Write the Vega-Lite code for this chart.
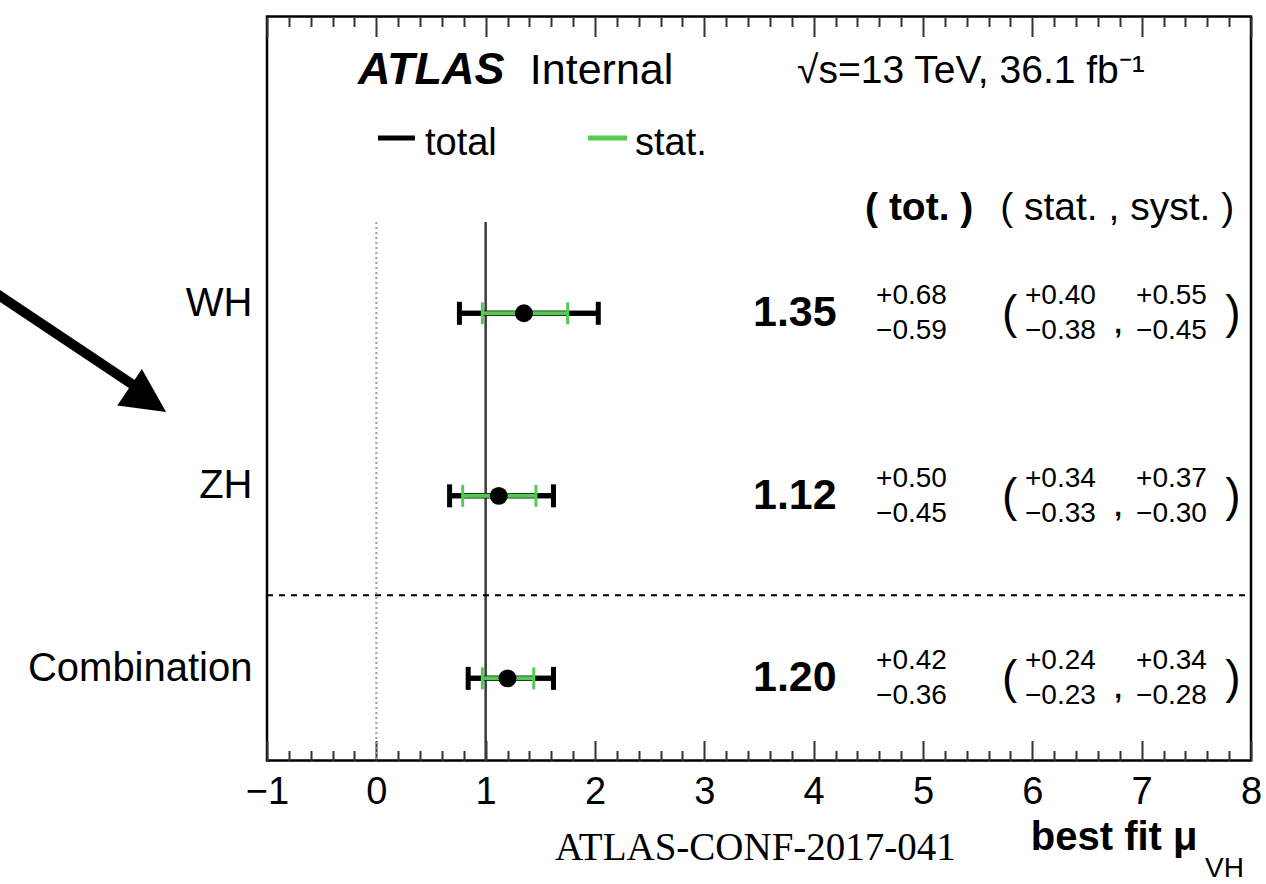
{
  "$schema": "https://vega.github.io/schema/vega-lite/v6.json",
  "width": 984,
  "height": 744,
  "autosize": {"type": "none"},
  "padding": {"left": 267, "top": 16.5, "right": 15, "bottom": 123.5},
  "background": "white",
  "config": {"font": "Liberation Sans", "view": {"stroke": "black", "strokeWidth": 2.5}},
  "datasets": {
    "fits": [
      {"process": "WH", "pos": 3, "mu": 1.35, "totLo": 0.76, "totHi": 2.03, "statLo": 0.97, "statHi": 1.75, "totUp": 0.68, "totDn": -0.59, "statUp": 0.40, "statDn": -0.38, "systUp": 0.55, "systDn": -0.45},
      {"process": "ZH", "pos": 2, "mu": 1.12, "totLo": 0.67, "totHi": 1.62, "statLo": 0.79, "statHi": 1.46, "totUp": 0.50, "totDn": -0.45, "statUp": 0.34, "statDn": -0.33, "systUp": 0.37, "systDn": -0.30},
      {"process": "Combination", "pos": 1, "mu": 1.20, "totLo": 0.84, "totHi": 1.62, "statLo": 0.97, "statHi": 1.44, "totUp": 0.42, "totDn": -0.36, "statUp": 0.24, "statDn": -0.23, "systUp": 0.34, "systDn": -0.28}
    ]
  },
  "resolve": {"axis": {"x": "independent"}},
  "layer": [
    {
      "data": {"name": "fits"},
      "mark": {"type": "rule", "color": "black", "strokeWidth": 5},
      "encoding": {
        "x": {"field": "totLo", "type": "quantitative", "scale": {"domain": [-1, 8], "nice": false, "zero": false},
          "axis": {"orient": "bottom", "values": [-1, 0, 1, 2, 3, 4, 5, 6, 7, 8], "format": "d", "domain": false, "grid": false, "ticks": true, "tickSize": -20, "tickWidth": 2, "tickColor": "#333", "labelFontSize": 38, "labelColor": "black", "labelPadding": 33, "labelFlush": false, "labelOverlap": false,
            "title": "best fit μ", "titleFontSize": 40, "titleFontWeight": "bold", "titleColor": "black", "titleAnchor": "end", "titleAlign": "right", "titleX": 930, "titleY": 89, "titleBaseline": "alphabetic"}},
        "x2": {"field": "totHi"},
        "y": {"field": "pos", "type": "quantitative", "scale": {"domain": [0.55, 4.626], "nice": false, "zero": false},
          "axis": {"orient": "left", "values": [1, 2, 3], "labelExpr": "datum.value == 3 ? 'WH' : datum.value == 2 ? 'ZH' : 'Combination'", "ticks": false, "domain": false, "grid": false, "labelFontSize": 40, "labelColor": "black", "labelPadding": 15, "labelOffset": -10, "labelLimit": 0, "title": null}}
      }
    },
    {
      "data": {"values": [{"mu": 0}]},
      "mark": {"type": "rule", "color": "#9a9a9a", "strokeWidth": 2, "strokeDash": [2, 3]},
      "encoding": {
        "x": {"field": "mu", "type": "quantitative", "scale": {"domain": [-1, 8], "nice": false, "zero": false}, "axis": null},
        "y": {"datum": 3.5, "type": "quantitative", "scale": {"domain": [0.55, 4.626], "nice": false, "zero": false}},
        "y2": {"datum": 0.55}
      }
    },
    {
      "data": {"values": [{"mu": 1}]},
      "mark": {"type": "rule", "color": "#3a3a3a", "strokeWidth": 2.5},
      "encoding": {
        "x": {"field": "mu", "type": "quantitative", "scale": {"domain": [-1, 8], "nice": false, "zero": false}, "axis": null},
        "y": {"datum": 3.5, "type": "quantitative", "scale": {"domain": [0.55, 4.626], "nice": false, "zero": false}},
        "y2": {"datum": 0.55}
      }
    },
    {
      "data": {"values": [{}]},
      "mark": {"type": "rule", "color": "black", "strokeWidth": 2, "strokeDash": [6, 6]},
      "encoding": {
        "x": {"datum": -1, "type": "quantitative", "scale": {"domain": [-1, 8], "nice": false, "zero": false}, "axis": null},
        "x2": {"datum": 8},
        "y": {"datum": 1.456, "type": "quantitative", "scale": {"domain": [0.55, 4.626], "nice": false, "zero": false}}
      }
    },
    {
      "data": {"name": "fits"},
      "mark": {"type": "rule", "color": "black", "strokeWidth": 5},
      "encoding": {
        "x": {"field": "totLo", "type": "quantitative", "scale": {"domain": [-1, 8], "nice": false, "zero": false}, "axis": null},
        "x2": {"field": "totHi"},
        "y": {"field": "pos", "type": "quantitative", "scale": {"domain": [0.55, 4.626], "nice": false, "zero": false}}
      }
    },
    {
      "data": {"name": "fits"},
      "mark": {"type": "point", "shape": "M0,-1L0,1", "size": 529, "strokeWidth": 5, "color": "black", "filled": false, "opacity": 1},
      "encoding": {
        "x": {"field": "totLo", "type": "quantitative", "scale": {"domain": [-1, 8], "nice": false, "zero": false},
          "axis": {"orient": "top", "values": [-1, 0, 1, 2, 3, 4, 5, 6, 7, 8], "labels": false, "domain": false, "grid": false, "tickSize": -20, "tickWidth": 2, "tickColor": "#333", "title": null}},
        "y": {"field": "pos", "type": "quantitative", "scale": {"domain": [0.55, 4.626], "nice": false, "zero": false}}
      }
    },
    {
      "data": {"name": "fits"},
      "mark": {"type": "point", "shape": "M0,-1L0,1", "size": 529, "strokeWidth": 5, "color": "black", "filled": false, "opacity": 1},
      "encoding": {
        "x": {"field": "totHi", "type": "quantitative", "scale": {"domain": [-1, 8], "nice": false, "zero": false},
          "axis": {"orient": "top", "values": [-0.8, -0.6, -0.4, -0.2, 0.2, 0.4, 0.6, 0.8, 1.2, 1.4, 1.6, 1.8, 2.2, 2.4, 2.6, 2.8, 3.2, 3.4, 3.6, 3.8, 4.2, 4.4, 4.6, 4.8, 5.2, 5.4, 5.6, 5.8, 6.2, 6.4, 6.6, 6.8, 7.2, 7.4, 7.6, 7.8], "labels": false, "domain": false, "grid": false, "tickSize": -10, "tickWidth": 2, "tickColor": "#333", "title": null}},
        "y": {"field": "pos", "type": "quantitative", "scale": {"domain": [0.55, 4.626], "nice": false, "zero": false}}
      }
    },
    {
      "data": {"name": "fits"},
      "mark": {"type": "rule", "color": "#50cc50", "strokeWidth": 4},
      "encoding": {
        "x": {"field": "statLo", "type": "quantitative", "scale": {"domain": [-1, 8], "nice": false, "zero": false},
          "axis": {"orient": "bottom", "values": [-0.8, -0.6, -0.4, -0.2, 0.2, 0.4, 0.6, 0.8, 1.2, 1.4, 1.6, 1.8, 2.2, 2.4, 2.6, 2.8, 3.2, 3.4, 3.6, 3.8, 4.2, 4.4, 4.6, 4.8, 5.2, 5.4, 5.6, 5.8, 6.2, 6.4, 6.6, 6.8, 7.2, 7.4, 7.6, 7.8], "labels": false, "domain": false, "grid": false, "tickSize": -10, "tickWidth": 2, "tickColor": "#333", "title": null}},
        "x2": {"field": "statHi"},
        "y": {"field": "pos", "type": "quantitative", "scale": {"domain": [0.55, 4.626], "nice": false, "zero": false}}
      }
    },
    {
      "data": {"name": "fits"},
      "mark": {"type": "point", "shape": "M0,-1L0,1", "size": 484, "strokeWidth": 3, "color": "#50cc50", "filled": false, "opacity": 1},
      "encoding": {
        "x": {"field": "statLo", "type": "quantitative", "scale": {"domain": [-1, 8], "nice": false, "zero": false}, "axis": null},
        "y": {"field": "pos", "type": "quantitative", "scale": {"domain": [0.55, 4.626], "nice": false, "zero": false}}
      }
    },
    {
      "data": {"name": "fits"},
      "mark": {"type": "point", "shape": "M0,-1L0,1", "size": 484, "strokeWidth": 3, "color": "#50cc50", "filled": false, "opacity": 1},
      "encoding": {
        "x": {"field": "statHi", "type": "quantitative", "scale": {"domain": [-1, 8], "nice": false, "zero": false}, "axis": null},
        "y": {"field": "pos", "type": "quantitative", "scale": {"domain": [0.55, 4.626], "nice": false, "zero": false}}
      }
    },
    {
      "data": {"name": "fits"},
      "mark": {"type": "circle", "size": 320, "color": "black", "opacity": 1},
      "encoding": {
        "x": {"field": "mu", "type": "quantitative", "scale": {"domain": [-1, 8], "nice": false, "zero": false}, "axis": null},
        "y": {"field": "pos", "type": "quantitative", "scale": {"domain": [0.55, 4.626], "nice": false, "zero": false}}
      }
    },
    {
      "data": {"name": "fits"},
      "mark": {"type": "text", "align": "left", "baseline": "middle", "fontSize": 43, "fontWeight": "bold", "color": "black"},
      "encoding": {
        "x": {"datum": 3.445, "type": "quantitative", "scale": {"domain": [-1, 8], "nice": false, "zero": false}, "axis": null},
        "y": {"field": "pos", "type": "quantitative", "scale": {"domain": [0.55, 4.626], "nice": false, "zero": false}},
        "text": {"field": "mu", "type": "quantitative", "format": ".2f"}
      }
    },
    {
      "data": {"name": "fits"},
      "mark": {"type": "text", "align": "left", "baseline": "middle", "fontSize": 28, "dy": -17, "color": "black"},
      "encoding": {
        "x": {"datum": 4.571, "type": "quantitative", "scale": {"domain": [-1, 8], "nice": false, "zero": false}, "axis": null},
        "y": {"field": "pos", "type": "quantitative", "scale": {"domain": [0.55, 4.626], "nice": false, "zero": false}},
        "text": {"field": "totUp", "type": "quantitative", "format": "+.2f"}
      }
    },
    {
      "data": {"name": "fits"},
      "mark": {"type": "text", "align": "left", "baseline": "middle", "fontSize": 28, "dy": 18, "color": "black"},
      "encoding": {
        "x": {"datum": 4.571, "type": "quantitative", "scale": {"domain": [-1, 8], "nice": false, "zero": false}, "axis": null},
        "y": {"field": "pos", "type": "quantitative", "scale": {"domain": [0.55, 4.626], "nice": false, "zero": false}},
        "text": {"field": "totDn", "type": "quantitative", "format": "+.2f"}
      }
    },
    {
      "data": {"name": "fits"},
      "mark": {"type": "text", "align": "left", "baseline": "middle", "fontSize": 28, "dy": -17, "color": "black"},
      "encoding": {
        "x": {"datum": 5.933, "type": "quantitative", "scale": {"domain": [-1, 8], "nice": false, "zero": false}, "axis": null},
        "y": {"field": "pos", "type": "quantitative", "scale": {"domain": [0.55, 4.626], "nice": false, "zero": false}},
        "text": {"field": "statUp", "type": "quantitative", "format": "+.2f"}
      }
    },
    {
      "data": {"name": "fits"},
      "mark": {"type": "text", "align": "left", "baseline": "middle", "fontSize": 28, "dy": 18, "color": "black"},
      "encoding": {
        "x": {"datum": 5.933, "type": "quantitative", "scale": {"domain": [-1, 8], "nice": false, "zero": false}, "axis": null},
        "y": {"field": "pos", "type": "quantitative", "scale": {"domain": [0.55, 4.626], "nice": false, "zero": false}},
        "text": {"field": "statDn", "type": "quantitative", "format": "+.2f"}
      }
    },
    {
      "data": {"name": "fits"},
      "mark": {"type": "text", "align": "left", "baseline": "middle", "fontSize": 28, "dy": -17, "color": "black"},
      "encoding": {
        "x": {"datum": 6.949, "type": "quantitative", "scale": {"domain": [-1, 8], "nice": false, "zero": false}, "axis": null},
        "y": {"field": "pos", "type": "quantitative", "scale": {"domain": [0.55, 4.626], "nice": false, "zero": false}},
        "text": {"field": "systUp", "type": "quantitative", "format": "+.2f"}
      }
    },
    {
      "data": {"name": "fits"},
      "mark": {"type": "text", "align": "left", "baseline": "middle", "fontSize": 28, "dy": 18, "color": "black"},
      "encoding": {
        "x": {"datum": 6.949, "type": "quantitative", "scale": {"domain": [-1, 8], "nice": false, "zero": false}, "axis": null},
        "y": {"field": "pos", "type": "quantitative", "scale": {"domain": [0.55, 4.626], "nice": false, "zero": false}},
        "text": {"field": "systDn", "type": "quantitative", "format": "+.2f"}
      }
    },
    {
      "data": {"name": "fits"},
      "mark": {"type": "text", "align": "left", "baseline": "middle", "fontSize": 46, "dy": 1, "color": "black"},
      "encoding": {
        "x": {"datum": 5.722, "type": "quantitative", "scale": {"domain": [-1, 8], "nice": false, "zero": false}, "axis": null},
        "y": {"field": "pos", "type": "quantitative", "scale": {"domain": [0.55, 4.626], "nice": false, "zero": false}},
        "text": {"value": "("}
      }
    },
    {
      "data": {"name": "fits"},
      "mark": {"type": "text", "align": "center", "baseline": "middle", "fontSize": 28, "fontWeight": "bold", "dy": 12, "color": "black"},
      "encoding": {
        "x": {"datum": 6.784, "type": "quantitative", "scale": {"domain": [-1, 8], "nice": false, "zero": false}, "axis": null},
        "y": {"field": "pos", "type": "quantitative", "scale": {"domain": [0.55, 4.626], "nice": false, "zero": false}},
        "text": {"value": ","}
      }
    },
    {
      "data": {"name": "fits"},
      "mark": {"type": "text", "align": "left", "baseline": "middle", "fontSize": 46, "dy": 1, "color": "black"},
      "encoding": {
        "x": {"datum": 7.765, "type": "quantitative", "scale": {"domain": [-1, 8], "nice": false, "zero": false}, "axis": null},
        "y": {"field": "pos", "type": "quantitative", "scale": {"domain": [0.55, 4.626], "nice": false, "zero": false}},
        "text": {"value": ")"}
      }
    },
    {
      "data": {"values": [{"series": "total"}]},
      "mark": {"type": "rule", "color": "black", "strokeWidth": 5},
      "encoding": {
        "x": {"datum": 0.015, "type": "quantitative", "scale": {"domain": [-1, 8], "nice": false, "zero": false}, "axis": null},
        "x2": {"datum": 0.353},
        "y": {"datum": 3.96, "type": "quantitative", "scale": {"domain": [0.55, 4.626], "nice": false, "zero": false}}
      }
    },
    {
      "data": {"values": [{"series": "stat."}]},
      "mark": {"type": "rule", "color": "#50cc50", "strokeWidth": 5},
      "encoding": {
        "x": {"datum": 1.937, "type": "quantitative", "scale": {"domain": [-1, 8], "nice": false, "zero": false}, "axis": null},
        "x2": {"datum": 2.293},
        "y": {"datum": 3.96, "type": "quantitative", "scale": {"domain": [0.55, 4.626], "nice": false, "zero": false}}
      }
    },
    {
      "data": {"values": [{"label": "total"}]},
      "mark": {"type": "text", "align": "left", "baseline": "alphabetic", "fontSize": 38, "color": "black"},
      "encoding": {
        "x": {"datum": 0.445, "type": "quantitative", "scale": {"domain": [-1, 8], "nice": false, "zero": false}, "axis": null},
        "y": {"datum": 3.867, "type": "quantitative", "scale": {"domain": [0.55, 4.626], "nice": false, "zero": false}},
        "text": {"field": "label"}
      }
    },
    {
      "data": {"values": [{"label": "stat."}]},
      "mark": {"type": "text", "align": "left", "baseline": "alphabetic", "fontSize": 38, "color": "black"},
      "encoding": {
        "x": {"datum": 2.366, "type": "quantitative", "scale": {"domain": [-1, 8], "nice": false, "zero": false}, "axis": null},
        "y": {"datum": 3.867, "type": "quantitative", "scale": {"domain": [0.55, 4.626], "nice": false, "zero": false}},
        "text": {"field": "label"}
      }
    },
    {
      "data": {"values": [{"label": "ATLAS"}]},
      "mark": {"type": "text", "align": "left", "baseline": "alphabetic", "fontSize": 45, "fontWeight": "bold", "fontStyle": "italic", "color": "black"},
      "encoding": {
        "x": {"datum": -0.168, "type": "quantitative", "scale": {"domain": [-1, 8], "nice": false, "zero": false}, "axis": null},
        "y": {"datum": 4.256, "type": "quantitative", "scale": {"domain": [0.55, 4.626], "nice": false, "zero": false}},
        "text": {"field": "label"}
      }
    },
    {
      "data": {"values": [{"label": "Internal"}]},
      "mark": {"type": "text", "align": "left", "baseline": "alphabetic", "fontSize": 43, "color": "black"},
      "encoding": {
        "x": {"datum": 1.404, "type": "quantitative", "scale": {"domain": [-1, 8], "nice": false, "zero": false}, "axis": null},
        "y": {"datum": 4.256, "type": "quantitative", "scale": {"domain": [0.55, 4.626], "nice": false, "zero": false}},
        "text": {"field": "label"}
      }
    },
    {
      "data": {"values": [{"label": "√s=13 TeV, 36.1 fb⁻¹"}]},
      "mark": {"type": "text", "align": "left", "baseline": "alphabetic", "fontSize": 39, "color": "black"},
      "encoding": {
        "x": {"datum": 3.848, "type": "quantitative", "scale": {"domain": [-1, 8], "nice": false, "zero": false}, "axis": null},
        "y": {"datum": 4.26, "type": "quantitative", "scale": {"domain": [0.55, 4.626], "nice": false, "zero": false}},
        "text": {"field": "label"}
      }
    },
    {
      "data": {"values": [{"label": "( tot. )"}]},
      "mark": {"type": "text", "align": "left", "baseline": "alphabetic", "fontSize": 39, "fontWeight": "bold", "color": "black"},
      "encoding": {
        "x": {"datum": 4.47, "type": "quantitative", "scale": {"domain": [-1, 8], "nice": false, "zero": false}, "axis": null},
        "y": {"datum": 3.511, "type": "quantitative", "scale": {"domain": [0.55, 4.626], "nice": false, "zero": false}},
        "text": {"field": "label"}
      }
    },
    {
      "data": {"values": [{"label": "( stat. , syst. )"}]},
      "mark": {"type": "text", "align": "left", "baseline": "alphabetic", "fontSize": 39, "color": "black"},
      "encoding": {
        "x": {"datum": 5.706, "type": "quantitative", "scale": {"domain": [-1, 8], "nice": false, "zero": false}, "axis": null},
        "y": {"datum": 3.511, "type": "quantitative", "scale": {"domain": [0.55, 4.626], "nice": false, "zero": false}},
        "text": {"field": "label"}
      }
    },
    {
      "data": {"values": [{"label": "ATLAS-CONF-2017-041"}]},
      "mark": {"type": "text", "align": "left", "baseline": "alphabetic", "fontSize": 39, "font": "Liberation Serif", "color": "black"},
      "encoding": {
        "x": {"datum": 1.634, "type": "quantitative", "scale": {"domain": [-1, 8], "nice": false, "zero": false}, "axis": null},
        "y": {"datum": 0.004, "type": "quantitative", "scale": {"domain": [0.55, 4.626], "nice": false, "zero": false}},
        "text": {"field": "label"}
      }
    },
    {
      "data": {"values": [{"label": "VH"}]},
      "mark": {"type": "text", "align": "left", "baseline": "alphabetic", "fontSize": 28, "color": "black"},
      "encoding": {
        "x": {"datum": 7.579, "type": "quantitative", "scale": {"domain": [-1, 8], "nice": false, "zero": false}, "axis": null},
        "y": {"datum": -0.089, "type": "quantitative", "scale": {"domain": [0.55, 4.626], "nice": false, "zero": false}},
        "text": {"field": "label"}
      }
    },
    {
      "data": {"values": [{"note": "arrow"}]},
      "mark": {"type": "rule", "color": "black", "strokeWidth": 10, "strokeCap": "butt"},
      "encoding": {
        "x": {"datum": -3.488, "type": "quantitative", "scale": {"domain": [-1, 8], "nice": false, "zero": false}, "axis": null},
        "y": {"datum": 3.113, "type": "quantitative", "scale": {"domain": [0.55, 4.626], "nice": false, "zero": false}},
        "x2": {"datum": -2.207},
        "y2": {"datum": 2.601}
      }
    },
    {
      "data": {"values": [{"note": "arrowhead"}]},
      "mark": {"type": "point", "shape": "M1,0L-1,-1L-1,1Z", "size": 1936, "angle": 34, "filled": true, "color": "black", "opacity": 1, "strokeWidth": 0},
      "encoding": {
        "x": {"datum": -2.09, "type": "quantitative", "scale": {"domain": [-1, 8], "nice": false, "zero": false}, "axis": null},
        "y": {"datum": 2.527, "type": "quantitative", "scale": {"domain": [0.55, 4.626], "nice": false, "zero": false}}
      }
    }
  ]
}
